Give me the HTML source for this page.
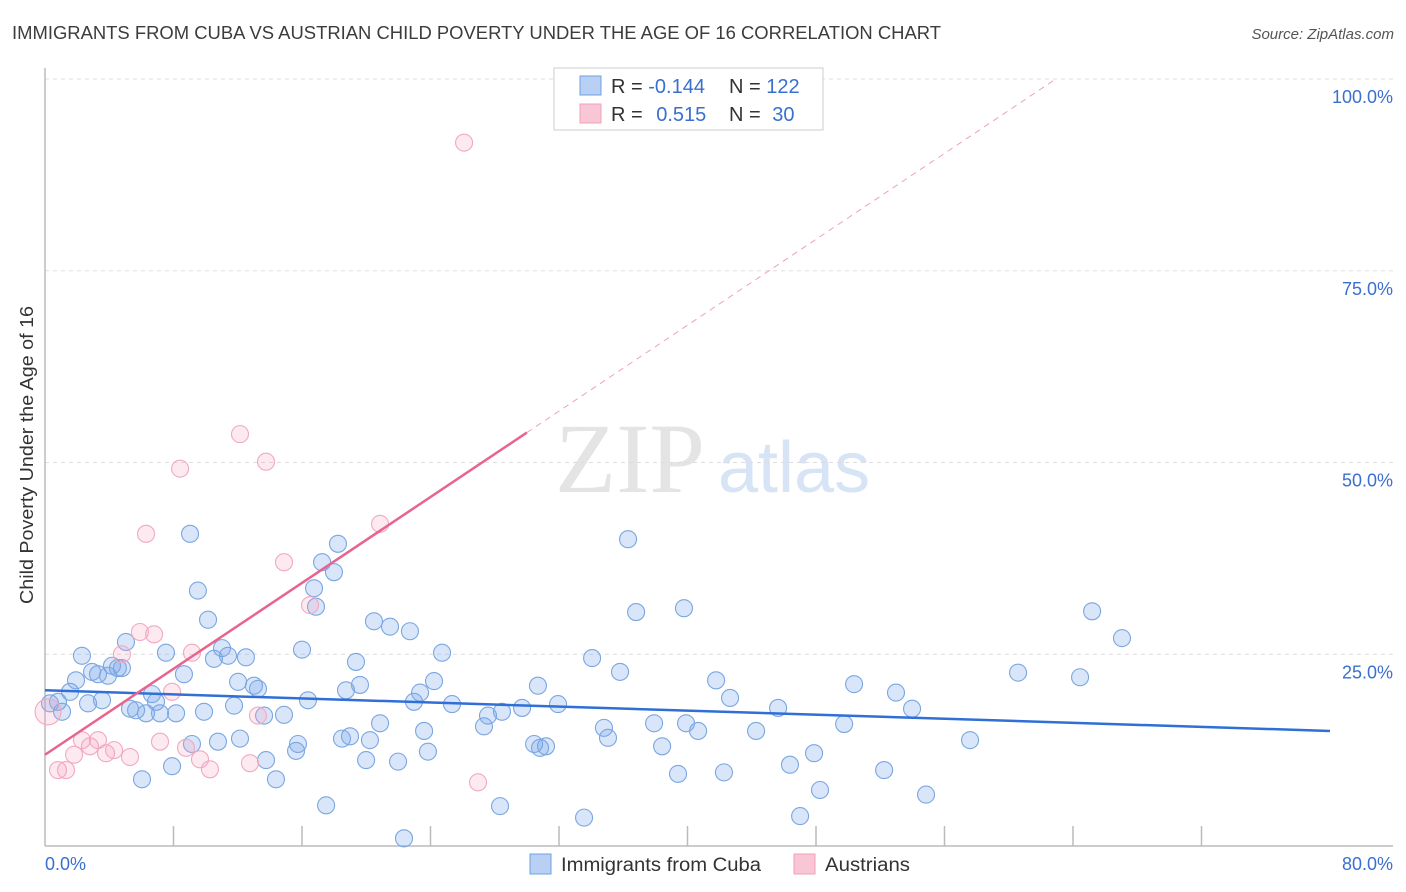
<!DOCTYPE html>
<html><head><meta charset="utf-8"><style>
body{margin:0;background:#fff;font-family:"Liberation Sans",sans-serif;}
svg{display:block}
</style></head><body>
<svg id="chart" width="1406" height="892" xmlns="http://www.w3.org/2000/svg">
<text x="12" y="39" font-size="18" fill="#3c3c3c" textLength="929" lengthAdjust="spacingAndGlyphs">IMMIGRANTS FROM CUBA VS AUSTRIAN CHILD POVERTY UNDER THE AGE OF 16 CORRELATION CHART</text>
<text x="1394" y="39" font-size="15" fill="#555" font-style="italic" text-anchor="end">Source: ZipAtlas.com</text>
<text x="555" y="492" font-size="100" fill="#e4e4e4" font-family="Liberation Serif,serif">ZIP</text>
<text x="718" y="492" font-size="72" fill="#d6e4f6">atlas</text>
<g id="grid"></g>
<g id="axes"></g>
<g id="pts"></g>
<g id="trends"></g>
<text transform="translate(33,455) rotate(-90)" font-size="18" fill="#333" text-anchor="middle" textLength="298" lengthAdjust="spacingAndGlyphs">Child Poverty Under the Age of 16</text>
<g>
<rect x="554" y="68" width="269" height="62" fill="#fff" stroke="#ccc"/>
<rect x="580" y="76" width="21" height="19" fill="#b8d0f4" stroke="#6fa0e0"/>
<rect x="580" y="104" width="21" height="19" fill="#f9c6d6" stroke="#f0a0b8"/>
<text x="611" y="93" font-size="20" fill="#333">R = <tspan fill="#3a6fd0">-0.144</tspan></text>
<text x="729" y="93" font-size="20" fill="#333">N = <tspan fill="#3a6fd0">122</tspan></text>
<text x="611" y="121" font-size="20" fill="#333">R = <tspan fill="#3a6fd0" dx="8">0.515</tspan></text>
<text x="729" y="121" font-size="20" fill="#333">N = <tspan fill="#3a6fd0" dx="6">30</tspan></text>
</g>
<g>
<rect x="530" y="854" width="21" height="20" fill="#b8d0f4" stroke="#6fa0e0"/>
<text x="561" y="871" font-size="19" fill="#333" textLength="200" lengthAdjust="spacingAndGlyphs">Immigrants from Cuba</text>
<rect x="794" y="854" width="21" height="20" fill="#f9c6d6" stroke="#f0a0b8"/>
<text x="825" y="871" font-size="19" fill="#333" textLength="85" lengthAdjust="spacingAndGlyphs">Austrians</text>
</g>
</svg>
<script>
const xTicks=[0,10,20,30,40,50,60,70,80];
const yTicks=[25,50,75,100];
const blueX=[0.31,0.81,1.06,1.56,1.93,2.30,2.68,2.93,3.30,3.55,3.92,4.17,4.54,4.79,5.04,5.29,5.67,6.04,6.29,6.66,6.91,7.16,7.53,7.91,8.16,8.65,9.03,9.15,9.52,9.90,10.15,10.52,10.77,11.02,11.39,11.77,12.02,12.14,12.51,13.01,13.26,13.64,13.76,14.38,14.88,15.63,15.75,16.00,16.37,16.75,16.87,17.25,17.50,17.99,18.24,18.49,18.74,18.99,19.36,19.61,19.99,20.23,20.48,20.86,21.48,21.98,22.35,22.72,22.97,23.35,23.60,23.84,24.22,24.72,25.34,27.33,27.58,28.33,28.45,29.70,30.45,30.69,30.82,31.19,31.94,33.56,34.06,34.80,35.05,35.80,36.30,36.80,37.92,38.42,39.41,39.78,39.91,40.66,41.78,42.27,42.65,44.27,45.64,46.38,47.01,47.88,48.25,49.75,50.37,52.24,52.98,53.98,54.85,57.59,60.58,64.44,65.19,67.05];
const blueY=[18.6,18.8,17.5,20.1,21.6,24.8,18.6,22.7,22.4,19.0,22.2,23.5,23.2,23.2,26.6,17.9,17.7,8.7,17.3,19.8,18.8,17.3,25.2,10.4,17.3,22.4,40.7,13.3,33.3,17.5,29.5,24.4,13.6,25.8,24.8,18.3,21.4,14.0,24.6,20.9,20.5,17.0,11.2,8.7,17.1,12.4,13.3,25.6,19.0,33.6,31.2,37.0,5.3,35.7,39.4,14.0,20.3,14.3,24.0,21.0,11.2,13.8,29.3,16.0,28.6,11.0,1.0,28.0,18.8,20.0,15.0,12.3,21.5,25.2,18.5,15.6,17.0,5.2,17.5,18.0,13.3,20.9,12.8,13.0,18.5,3.7,24.5,15.4,14.1,22.7,40.0,30.5,16.0,13.0,9.4,31.0,16.0,15.0,21.6,9.6,19.3,15.0,18.0,10.6,3.9,12.1,7.3,15.9,21.1,9.9,20.0,17.9,6.7,13.8,22.6,22.0,30.6,27.1];
const pinkX=[0.81,1.31,1.81,2.30,2.80,3.30,3.80,4.30,4.79,5.29,5.91,6.29,6.79,7.16,7.91,8.41,8.78,9.15,9.65,10.27,12.14,12.76,13.26,13.76,14.88,16.50,20.86,26.09,26.96,0.19];
const pinkY=[9.9,9.9,11.9,13.8,13.0,13.8,12.1,12.5,25.0,11.6,27.9,40.7,27.6,13.6,20.1,49.2,12.8,25.2,11.3,10.0,53.7,10.8,17.0,50.1,37.0,31.4,42.0,91.7,8.3,17.5];
const blueTrend=[20.3,15.0];
const pinkTrend=[11.9,1.4];
const NS='http://www.w3.org/2000/svg';
const X=v=>45+v*1285/80, Y=v=>846-v*7.67;
function mk(t,a,p){const e=document.createElementNS(NS,t);for(const k in a)e.setAttribute(k,a[k]);document.getElementById(p).appendChild(e);return e;}
yTicks.forEach(t=>{
 const l=mk('line',{x1:45,x2:1393,y1:Y(t),y2:Y(t),stroke:'#ddd','stroke-dasharray':'4,4'},'grid');
 
 
 const tx=mk('text',{x:1393,y:Y(t)+24,'font-size':18,fill:'#3a6fd0','text-anchor':'end'},'grid');
 tx.textContent=t.toFixed(1)+'%';
 
 
});
mk('line',{x1:45,x2:45,y1:68,y2:846,stroke:'#bbb','stroke-width':1.5},'axes');
mk('line',{x1:45,x2:1393,y1:846,y2:846,stroke:'#bbb','stroke-width':1.5},'axes');
for(let i=1;i<10;i++){mk('line',{x1:X(i*8),x2:X(i*8),y1:826,y2:846,stroke:'#bbb','stroke-width':1.5},'axes');}
[[0,'0.0%',45,'start'],[80,'80.0%',1393,'end']].forEach(d=>{
 const tx=mk('text',{x:d[2],y:870,'font-size':18,fill:'#3a6fd0','text-anchor':d[3]},'axes');
 tx.textContent=d[1];
 
 
});
blueX.forEach((x,i)=>{
 const c=mk('circle',{cx:X(x),cy:Y(blueY[i]),r:8.5,fill:'rgba(120,165,235,0.28)',stroke:'#7aa6e2','stroke-width':1.1},'pts');
 
 
});
pinkX.forEach((x,i)=>{
 const c=mk('circle',{cx:X(x),cy:Y(pinkY[i]),r:i==pinkX.length-1?13:8.5,fill:'rgba(245,160,190,0.22)',stroke:'#f2a8c0','stroke-width':1.1},'pts');
 
 
});
const bl=mk('line',{x1:X(0),y1:Y(blueTrend[0]),x2:X(80),y2:Y(blueTrend[1]),stroke:'#2f6fd6','stroke-width':2.5},'trends');


const pEnd=(100-pinkTrend[0])/pinkTrend[1];
const ps=mk('line',{x1:X(0),y1:Y(pinkTrend[0]),x2:X(30),y2:Y(pinkTrend[0]+30*pinkTrend[1]),stroke:'#e8648f','stroke-width':2.5},'trends');


const pd=mk('line',{x1:X(30),y1:Y(pinkTrend[0]+30*pinkTrend[1]),x2:X(pEnd),y2:Y(100),stroke:'#f0a0b8','stroke-width':1,'stroke-dasharray':'6,5'},'trends');


</script>
</body></html>
